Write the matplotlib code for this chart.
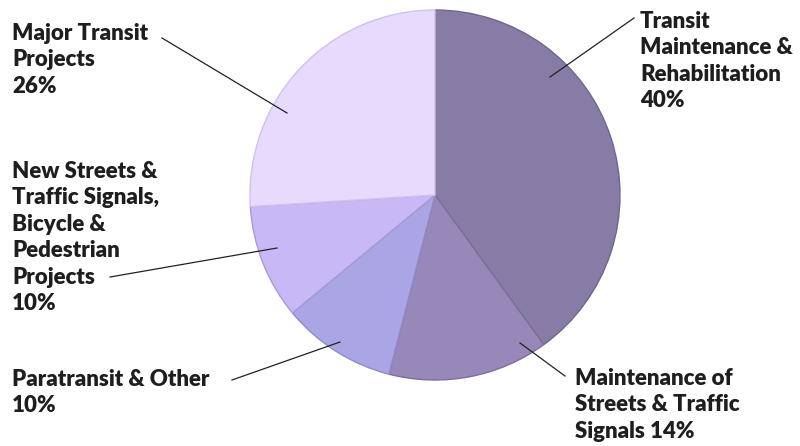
import matplotlib
matplotlib.use('Agg')
import matplotlib.pyplot as plt

labels = ["Transit\nMaintenance &\nRehabilitation\n40%",
          "Maintenance of\nStreets & Traffic\nSignals 14%",
          "Paratransit & Other\n10%",
          "New Streets &\nTraffic Signals,\nBicycle &\nPedestrian\nProjects\n10%",
          "Major Transit\nProjects\n26%"]
shares = [40, 14, 10, 10, 26]
colors = ["#877ca6", "#9887b9", "#aaa6e6", "#c9b8f6", "#e8dafc"]
edges = ["#6f6690", "#7e6f9c", "#8f8cc8", "#ab9ad6", "#d0c2ec"]

# label text anchor (px, top-left) and leader line (text end -> wedge point)
text_pos = [(640, 11), (575, 368), (12, 369), (12, 161), (12, 23)]
leaders = [((634, 18), (550, 77)),
           ((565, 376), (520, 343)),
           ((232, 380), (340, 342)),
           ((110, 277), (277, 248)),
           ((162, 38), (287, 113))]

H = 446
fig = plt.figure(figsize=(8, 4.46), dpi=100)
ax = fig.add_axes([0, 0, 1, 1])

wedges, _ = ax.pie(shares, colors=colors, startangle=90, counterclock=False,
                   center=(435, H - 195), radius=185, frame=False)
for w, ec in zip(wedges, edges):
    w.set_edgecolor(ec)
    w.set_linewidth(1.0)

for lab, (tx, ty), ((x1, y1), (x2, y2)) in zip(labels, text_pos, leaders):
    ax.text(tx, H - ty, lab, ha='left', va='top', fontsize=16,
            fontweight='heavy', family='Lato', color='#1e1e1e', linespacing=1.32)
    ax.plot([x1, x2], [H - y1, H - y2], color='#222222', lw=0.9)

ax.set_xlim(0, 800)
ax.set_ylim(0, H)
ax.set_aspect('auto')
ax.axis('off')

fig.savefig("out.png", dpi=100, facecolor='white')
